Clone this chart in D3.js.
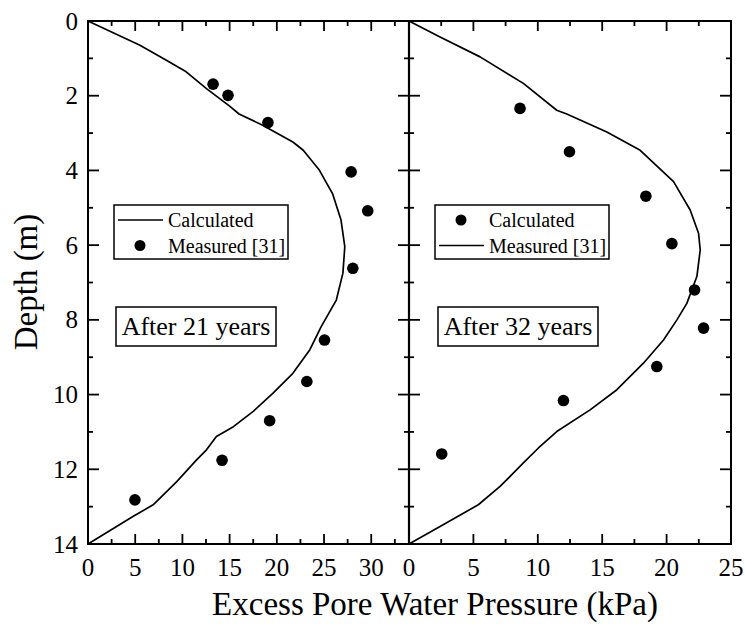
<!DOCTYPE html>
<html><head><meta charset="utf-8">
<script src="https://cdn.jsdelivr.net/npm/d3@7/dist/d3.min.js"></script>
</head><body style="margin:0;background:#fff"><svg id="c" width="745" height="630" font-family="Liberation Serif, Times New Roman, DejaVu Serif, serif"></svg>
<script>
// Left panel (after 21 years)
const leftCalcP = [0,5.5,8.3,10.4,12.55,15.0,16.0,18.5,21.7,22.8,24.5,25.9,26.8,27.2,27.0,26.3,24.7,23.5,21.7,19.6,17.5,15.4,13.6,12.55,11.5,9.4,6.9,4.8,0];
const leftCalcD = [0,0.65,1.05,1.36,1.81,2.28,2.49,2.79,3.24,3.46,3.99,4.62,5.33,6.04,6.75,7.47,8.18,8.8,9.43,9.96,10.45,10.86,11.12,11.48,11.75,12.33,12.95,13.26,14];
const leftMeasP = [13.25,14.83,19.06,27.87,29.63,28.05,25.05,23.18,19.24,14.2,4.97];
const leftMeasD = [1.69,1.99,2.72,4.04,5.08,6.62,8.54,9.65,10.70,11.76,12.82];
// Right panel (after 32 years)
const rightLineP = [0,2.41,5.52,8.88,11.47,12.25,15.36,17.95,20.54,21.83,22.48,22.61,22.35,21.57,20.8,19.76,18.2,16.14,14.06,11.47,10.05,8.88,7.07,5.38,2.41,0];
const rightLineD = [0,0.43,0.96,1.67,2.39,2.49,2.97,3.46,4.3,5.06,5.68,6.13,6.84,7.56,8.0,8.54,9.16,9.87,10.41,10.99,11.43,11.83,12.46,12.95,13.53,14];
const rightDotP = [8.62,12.46,18.39,20.41,22.17,22.87,19.24,11.99,2.54];
const rightDotD = [2.34,3.50,4.69,5.96,7.2,8.22,9.25,10.16,11.59];

const leftXTicks = [0,5,10,15,20,25,30];
const rightXTicks = [0,5,10,15,20,25];
const yTicks = [0,2,4,6,8,10,12,14];

const FONT = "Liberation Serif, Times New Roman, DejaVu Serif, serif";
const svg = d3.select("#c");
const y = d3.scaleLinear().domain([0,14]).range([21,544]);
const xL = d3.scaleLinear().domain([0,34]).range([88,409]);
const xR = d3.scaleLinear().domain([0,25]).range([409,731]);
const line = (xs) => d3.line().x(d=>xs(d[0])).y(d=>y(d[1])).curve(d3.curveLinear);
const txt = (x, yy, s, size, anchor) => svg.append("text").attr("x",x).attr("y",yy).attr("font-size",size)
  .attr("font-family",FONT).style("font-family",FONT).attr("fill","#000").attr("text-anchor",anchor||"start").text(s);

function ticks(xs, majors, minorStep, top, bottom) {
  const g = svg.append("g").attr("stroke","#000").attr("stroke-width",1.8);
  const dom = xs.domain();
  for (let v = 0; v <= dom[1] + 1e-9; v += minorStep) {
    const isMajor = majors.some(m => Math.abs(m - v) < 1e-9);
    const len = isMajor ? 10 : 5;
    const px = xs(v);
    g.append("line").attr("x1",px).attr("x2",px).attr("y1",top).attr("y2",top+len);
    g.append("line").attr("x1",px).attr("x2",px).attr("y1",bottom).attr("y2",bottom-len);
  }
}
ticks(xL, leftXTicks, 2.5, y(0), y(14));
ticks(xR, rightXTicks, 2.5, y(0), y(14));

const gy = svg.append("g").attr("stroke","#000").attr("stroke-width",1.8);
for (let v = 0; v <= 14; v += 1) {
  const isMajor = yTicks.includes(v);
  const len = isMajor ? 11 : 5;
  const py = y(v);
  gy.append("line").attr("x1",xL(0)).attr("x2",xL(0)+len).attr("y1",py).attr("y2",py);
  gy.append("line").attr("x1",xR(0)-len).attr("x2",xR(0)+len).attr("y1",py).attr("y2",py);
  gy.append("line").attr("x1",xR(25)-len).attr("x2",xR(25)).attr("y1",py).attr("y2",py);
}

svg.append("rect").attr("x",xL(0)).attr("y",y(0)).attr("width",xR(25)-xL(0)).attr("height",y(14)-y(0))
  .attr("fill","none").attr("stroke","#000").attr("stroke-width",2);
svg.append("line").attr("x1",xR(0)).attr("x2",xR(0)).attr("y1",y(0)).attr("y2",y(14)).attr("stroke","#000").attr("stroke-width",2.2);

leftXTicks.forEach(v => txt(xL(v), 576, v, 25, "middle"));
rightXTicks.forEach(v => txt(xR(v), 576, v, 25, "middle"));
yTicks.forEach(v => txt(78, y(v)+8.5, v, 25, "end"));

svg.append("path").datum(leftCalcP.map((p,i)=>[p,leftCalcD[i]])).attr("d",line(xL)).attr("fill","none").attr("stroke","#000").attr("stroke-width",1.7).attr("stroke-linejoin","round");
svg.append("path").datum(rightLineP.map((p,i)=>[p,rightLineD[i]])).attr("d",line(xR)).attr("fill","none").attr("stroke","#000").attr("stroke-width",1.7).attr("stroke-linejoin","round");
svg.selectAll(".dl").data(leftMeasP.map((p,i)=>[p,leftMeasD[i]])).join("circle").attr("cx",d=>xL(d[0])).attr("cy",d=>y(d[1])).attr("r",5.8).attr("fill","#000");
svg.selectAll(".dr").data(rightDotP.map((p,i)=>[p,rightDotD[i]])).join("circle").attr("cx",d=>xR(d[0])).attr("cy",d=>y(d[1])).attr("r",5.8).attr("fill","#000");

function legend(x0, lineFirst, labels) {
  svg.append("rect").attr("x",x0).attr("y",205).attr("width",174).attr("height",54).attr("fill","#fff").attr("stroke","#000").attr("stroke-width",1.5);
  const rows = [220, 245.5];
  const lineRow = lineFirst ? 0 : 1, dotRow = lineFirst ? 1 : 0;
  svg.append("line").attr("x1",x0+4).attr("x2",x0+49).attr("y1",rows[lineRow]).attr("y2",rows[lineRow]).attr("stroke","#000").attr("stroke-width",1.6);
  svg.append("circle").attr("cx",x0+26).attr("cy",rows[dotRow]).attr("r",5.5).attr("fill","#000");
  labels.forEach((t,i)=>txt(x0+54, rows[i]+7, t, 20));
}
legend(114, true, ["Calculated","Measured [31]"]);
legend(435, false, ["Calculated","Measured [31]"]);

function note(x0, t) {
  svg.append("rect").attr("x",x0).attr("y",307).attr("width",160).attr("height",39).attr("fill","#fff").attr("stroke","#000").attr("stroke-width",1.5);
  txt(x0+80, 335, t, 26, "middle");
}
note(116, "After 21 years");
note(438, "After 32 years");

txt(435, 615, "Excess Pore Water Pressure (kPa)", 33, "middle");
svg.append("text").attr("transform","translate(37,282) rotate(-90)").attr("text-anchor","middle").attr("font-size",33)
  .attr("font-family",FONT).style("font-family",FONT).text("Depth (m)");
</script></body></html>
